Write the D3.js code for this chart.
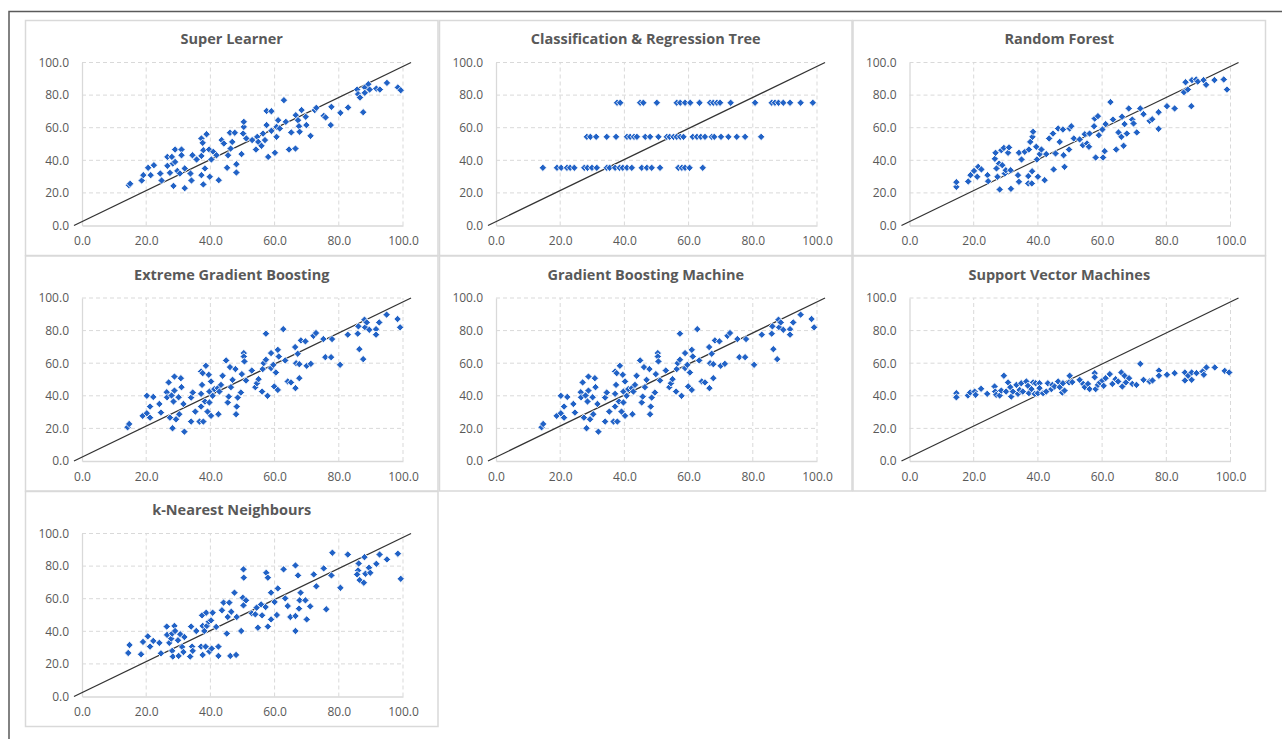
<!DOCTYPE html>
<html><head><meta charset="utf-8">
<script src="https://cdn.jsdelivr.net/npm/d3@7"></script>
<style>
html,body{margin:0;padding:0;background:#fff;}
svg{display:block;}
</style></head>
<body>
<svg id="chart" width="1282" height="739"></svg>
<script>
// ---------- DATA ----------
const titles = ["Super Learner","Classification & Regression Tree","Random Forest",
  "Extreme Gradient Boosting","Gradient Boosting Machine","Support Vector Machines","k-Nearest Neighbours"];
const xTicks = [0,20,40,60,80,100];
const yTicks = [0,20,40,60,80,100];
const diagX = [-2.5, 102.5];
const diagY = [0, 100];

const slX = [14.6,15,18.6,19.1,20.6,21.4,22.4,24.4,24.8,26.6,26.6,27.4,28,28.3,28.5,29,29,29.7,30.5,31,31,32,32,33.8,34.1,34.4,35.7,37.2,37.6,37.2,37.8,37.2,37.8,38.3,38.8,39.6,39.8,40.3,40.9,41.9,42.6,43.5,44.2,45.2,45.5,46.1,46.3,46.8,47.6,48.1,48.1,49.7,50.2,50.4,50.4,51.2,53,54.2,54.6,54.9,55.9,56.4,57,57.5,57.5,58,59,59,60.1,60.6,60.6,61.1,61.6,62.9,63.5,64.5,65.2,66.5,66.6,67.3,67.6,67.8,68.4,69.7,69.9,71.2,72.5,73,75.3,75.9,77.7,77.5,80.5,82.9,85.7,86,86.6,87.6,88.1,88.1,89.2,89.6,91.7,92.8,95,98.4,99.3];
const slY = [24.7,25.6,27.6,30.9,35.4,30.9,37,31.9,27.6,42.1,36.6,32.3,42.1,38,24.3,46.6,39,33.5,31.9,46.6,43.1,35,22.9,31.9,27.6,43.1,40.5,53.4,50.7,42.7,46.2,30.9,25.2,35,56,46.6,29.9,40.5,45.2,43.1,27.8,52.4,50.3,35.4,43.1,56.9,47.2,51.3,56.9,37.6,32.5,43.8,56.4,60.5,63.6,53.4,52.4,46.6,54.4,51.3,48.9,56.4,52.4,61.6,70.3,42.1,70.1,58.1,44.6,54.4,60.5,64.6,59.5,76.9,63.6,46.6,57.1,47.2,67.7,64.6,60.9,57.5,70.8,66.7,61.6,55,70.8,72.2,67.3,66.3,72.8,61.6,69.1,72.4,83.4,80.6,78.5,69.5,84.7,81.4,86.7,83.4,84,83.4,87.5,84.7,83];

const cartX = [37.7,38.7,44.9,45.9,50.1,56.3,57.4,58.9,60.5,63.4,66.7,67.7,68.8,69.8,73.1,80.7,85.9,86.9,88,89.5,91.6,94.9,98.7,
  28.3,29.4,31.2,34.5,37.4,40.8,41.8,43,43.9,46.5,48,50.6,53.2,54.1,55.3,56.3,57.4,58.4,61.3,62.6,63.8,65.1,67.2,68,70.1,72.4,75,77.6,82.6,
  14.6,19,20.3,22.1,23.1,24.4,27.5,28.5,29.9,31.4,34.5,35.4,37.1,38.5,39.5,40.8,42.3,45.4,47,48.5,51.1,56.8,57.9,58.9,60.3,64.4];
const cartY = [75.3,75.3,75.3,75.3,75.3,75.3,75.3,75.3,75.3,75.3,75.3,75.3,75.3,75.3,75.3,75.3,75.3,75.3,75.3,75.3,75.3,75.3,75.3,
  54.4,54.4,54.4,54.4,54.4,54.4,54.4,54.4,54.4,54.4,54.4,54.4,54.4,54.4,54.4,54.4,54.4,54.4,54.4,54.4,54.4,54.4,54.4,54.4,54.4,54.4,54.4,54.4,54.4,
  35.4,35.4,35.4,35.4,35.4,35.4,35.4,35.4,35.4,35.4,35.4,35.4,35.4,35.4,35.4,35.4,35.4,35.4,35.4,35.4,35.4,35.4,35.4,35.4,35.4,35.4];

const rfX = [14.6,14.6,18.3,19,20.1,21.1,21.4,22.4,24.3,24.5,26.6,26.8,27.1,27.4,27.9,28.1,28.6,28.9,29.4,29.7,30,30.7,31,31.5,31.6,33.8,34.1,34.1,34.9,35.9,37,37,37.2,37.6,38.1,38.2,38.3,38.5,39.5,39.7,40,40.6,41.1,42.1,42.6,43.5,44.7,44.9,45.5,46.3,46.8,47.8,48,48.3,49.7,49.9,50.4,51.2,53,54,54.6,55.3,55.9,56.1,57.5,57.7,58,58.7,59,60.1,60.3,60.8,61.1,62.6,63.4,64.4,65.1,66,66.2,66.7,67,67.7,68.3,69.4,69.8,70.8,71.9,72.9,74.8,75.6,77.6,77.6,80.2,82.6,85.5,86,86.7,87.8,88,89.3,89.8,91.6,92.4,95,97.9,98.9];
const rfY = [23.7,26.6,27,30.9,33.5,29.9,36,34.4,30.9,27.2,40.9,44.6,35,29.9,38,22.1,46.2,37,47.6,31.9,33.9,44.6,47.9,33.9,22.5,30.9,26.8,44.6,40.5,45.2,30.3,25.8,46.6,51.3,25.8,33.3,54.4,57.5,48.3,40.5,29.9,43.8,46.6,27.8,43.8,53.4,56.4,34.4,44.2,59.5,51.3,58.9,43.1,36,46.6,59.5,60.9,53.4,52.8,49.3,56,50.3,48.3,56.4,60.9,65.6,41.7,67.1,55.4,58.9,41.7,45.6,62.2,75.7,65,46.6,57.1,54.4,66.7,48.9,62.2,56.4,71.8,65,62.6,57.1,71.8,68.3,64.2,65.2,69.5,59.3,73.2,71.8,81.8,87.9,83.4,73.2,89.2,89.6,88.3,89.2,86.3,89.2,89.6,83.4];

const xgbX = [14.2,14.7,18.9,20.2,20.2,21.2,21.2,22.2,24.1,24.6,26.4,26.5,27,27.4,27.9,28.2,28.5,28.8,28.8,29.3,30.1,30.3,30.8,31,31.6,31.9,34,34,34.5,35.3,36.6,37.1,37.4,37.1,37.1,37.6,37.8,38.3,38.6,39.1,39.5,39.7,39.7,40.2,40.2,40.7,41.2,42.3,42.5,42.8,43.3,43.8,44.9,45.4,45.7,46.1,46.4,46.9,47.8,48,48.2,48.5,49.5,49.8,50.4,50.4,50.6,51.1,52.9,54,54.5,55,56.1,56.3,56.6,57.3,57.3,57.8,58.9,58.9,59.6,59.9,60.4,61,61,61.3,62.7,63.3,64.1,65.1,66.4,66.5,67.2,66.7,67.7,67.7,68.2,69.6,70,71.3,72.1,72.9,75.2,75.8,77.6,77.9,80.4,82.8,85.9,86.1,86.4,87.6,88,88.2,88.7,89.5,91.6,91.6,92.6,94.9,98.3,99.1];
const xgbY = [20.7,22.7,27.7,29.3,40,33.4,26.6,39.3,35,29.7,42.2,39.1,48.2,26.6,40.2,20.1,36.5,51.8,43.2,25.6,39.1,28.7,50.8,45.3,35,18,38.9,24.2,42,30.3,24.2,41.2,46.7,33.4,54.9,53.9,24.2,36.5,58.4,30.3,52.9,35.9,42.6,48.8,27.7,40,44.1,44.7,28.7,42.6,46.7,52.3,61.7,35.9,39.5,57.6,45.3,49.8,56.4,28.7,33.4,38.9,42,53.3,66.2,64.1,61.1,49.4,55.5,45.3,47.7,50.2,42.6,56.4,60,78.1,62.1,40,57,66.2,59,45.7,54.3,68.2,43.6,64.1,80.9,61.7,48.8,48.2,69.9,44.7,65.8,60,59.4,50.8,74,73.4,58.4,59.6,76.8,78.5,74.8,63.7,63.7,74.8,59,77.5,78.1,82.6,68.6,62.5,86.7,82,85,80.5,80.9,77.5,85,89.8,87.1,82];
const gbmX = xgbX.slice();
const gbmY = xgbY.slice();

const svmX = [14.6,14.6,18.2,18.9,20.3,20.6,22.3,24.2,26.5,26.7,27,28.1,28.6,29.4,30.1,30.7,31.4,31.7,32.2,33.3,33.8,34.3,34.8,35.3,36.4,36.9,37.2,38,38.5,39,39.3,40,40.5,40.5,41.6,42.6,43.1,44.2,44.5,45.2,46.3,46.8,47.6,47.8,48.3,49.7,49.9,50.7,53,54.1,54.6,55.6,56.1,57.7,57.7,58,58.7,59.3,60.1,60.5,61.1,62.4,63.2,64.2,65,66,66.3,67,67.4,68.4,69.4,70.7,71.9,72.9,74.8,75.7,77.7,77.7,80.2,82.6,85.8,85.8,86.8,87.9,87.9,89.4,91.3,91.7,92.5,95.1,98.2,99.6];
const svmY = [41.6,39.1,40.2,42,42.6,40.6,44.3,41.2,45.7,42.6,40.6,40.2,43.2,52.3,42.6,48.2,45.3,39.5,42.6,46.7,41.2,43.6,47.7,42.6,48.8,46.1,41.6,44.1,48.2,41.2,47.7,41.6,47.7,44.7,41.6,42.6,47.7,44.1,46.7,45.7,48.8,45.3,42,47.7,43.2,48.2,52.3,48.4,49.8,47.3,45.3,47.3,44.1,53.9,51.4,44.1,46.7,48.2,49.4,46.1,50.8,53.3,47.3,50.2,48.8,54.3,45.7,52.3,48.2,50.8,47.3,46.7,59.6,49.8,48.8,49.4,55.5,52.3,52.9,53.9,54.3,49.4,52.3,54.3,49.8,53.9,54.9,52.9,57.4,57.4,55.3,54.3];

const knnX = [14.4,14.8,18.4,19,20.5,21.2,22.2,24.1,24.6,26.4,26.5,27.2,27.8,28.1,28.1,28.3,28.8,29,29.9,30.1,30.6,31.2,31.6,31.9,33.7,34,34.3,34.5,35.6,37.1,37.4,37.6,37.6,38.1,38.7,38.5,38.9,39.5,39.7,40.2,40.4,40.7,41.8,42.5,42.5,43.6,44.1,45.1,45.4,45.9,46.2,46.5,47.5,48,48.2,49.6,50.1,50.3,50.3,50.4,51.1,52.9,54,54.4,54.8,55.8,56.1,57.2,57.4,57.9,57.9,58.9,58.9,60,60.7,61,62.8,63.3,64.1,64.9,66.5,66.5,66.5,67.3,67.6,67.8,68.1,69.6,70,71.1,72.2,73,75.3,76.1,77.7,78,80.5,82.8,86,86.2,85.7,86.5,87.8,88,88.3,89.4,89.8,91.7,92.7,95,98.4,99.3];
const knnY = [26.7,31.6,25.9,33.5,36.9,30.6,34.1,32.9,26.5,42.9,37.8,32.9,35.5,38.6,28,24.5,43.3,40.2,34.5,24.9,38.2,30.4,27.3,36.5,24.5,42.9,30.6,28,40.2,30.6,49.8,25.5,43.3,40.2,51.4,30.6,43.3,45.9,27.6,46.7,29.4,51.4,42.7,30.6,24.9,52.9,57.6,38.6,48.8,57.6,24.9,52,63.7,25.5,48.8,40.2,60.6,55.9,78,72.9,59,51,50.4,54.5,42.2,56.5,49.8,54.9,75.9,72.9,42.9,47.3,63.7,58,50,66.3,78,60.2,55.5,48.8,80.4,49.4,40.2,74.3,53.9,59,63.7,59,47.3,55.3,74.9,67.6,78.6,53.5,74.3,88.2,66.7,87.1,77.3,81.6,74.9,71.4,69.8,85.5,75.3,79,75.9,81.4,87.1,84.1,87.6,72.2];

const seriesX = [slX, cartX, rfX, xgbX, gbmX, svmX, knnX];
const seriesY = [slY, cartY, rfY, xgbY, gbmY, svmY, knnY];

// ---------- LAYOUT ----------
const svg = d3.select("#chart");
const colX = [25, 439, 852.5], colW = 413.5;
const rowY = [20, 255.5, 491], rowH = 236;
const plot = {left: 57, right: 378, top: 42.5, bottom: 205.5};
const font = "'Open Sans', 'Liberation Sans', sans-serif";
const txt = "#595959", grid = "#d9d9d9", marker = "#2162c6";

// page border (top + left)
svg.append("path").attr("d", "M9,739 L9,11.5 L1282,11.5")
  .attr("fill","none").attr("stroke","#5a5a5a").attr("stroke-width",1.5);

titles.forEach((t, i) => {
  const c = i % 3, r = Math.floor(i / 3);
  const g = svg.append("g").attr("transform", `translate(${colX[c]},${rowY[r]})`);
  g.append("rect").attr("x",0.5).attr("y",0.5).attr("width",colW-1).attr("height",rowH-1)
    .attr("fill","#fff").attr("stroke",grid).attr("stroke-width",1.5);

  const x = d3.scaleLinear().domain([0,100]).range([plot.left, plot.right]);
  const y = d3.scaleLinear().domain([0,100]).range([plot.bottom, plot.top]);

  // gridlines
  g.append("g").selectAll("line").data(xTicks.filter(v=>v>0)).join("line")
    .attr("x1",d=>x(d)).attr("x2",d=>x(d)).attr("y1",y(0)).attr("y2",y(100))
    .attr("stroke",grid).attr("stroke-width",1).attr("stroke-dasharray","4,3");
  g.append("g").selectAll("line").data(yTicks.filter(v=>v>0)).join("line")
    .attr("x1",x(0)).attr("x2",x(100)).attr("y1",d=>y(d)).attr("y2",d=>y(d))
    .attr("stroke",grid).attr("stroke-width",1).attr("stroke-dasharray","4,3");

  // axes
  const xa = g.append("g").attr("transform",`translate(0,${y(0)})`)
    .call(d3.axisBottom(x).tickValues(xTicks).tickFormat(d3.format(".1f")).tickSize(0).tickPadding(11));
  const ya = g.append("g").attr("transform",`translate(${x(0)},0)`)
    .call(d3.axisLeft(y).tickValues(yTicks).tickFormat(d3.format(".1f")).tickSize(0).tickPadding(13));
  [xa, ya].forEach(a => {
    a.select(".domain").attr("stroke",grid).attr("stroke-width",1.3);
    a.selectAll("text").attr("fill",txt).style("font-family",font).style("font-size","12px");
  });

  // diagonal reference line
  const line = d3.line().x(d=>x(d[0])).y(d=>y(d[1]));
  g.append("path").datum(d3.zip(diagX, diagY)).attr("d", line)
    .attr("fill","none").attr("stroke","#333").attr("stroke-width",1.3);

  // points
  const pts = d3.zip(seriesX[i], seriesY[i]);
  g.append("g").selectAll("path").data(pts).join("path")
    .attr("d", d3.symbol().type(d3.symbolSquare).size(27))
    .attr("transform", d => `translate(${x(d[0])},${y(d[1])}) rotate(45)`)
    .attr("fill", marker).attr("stroke","#fff").attr("stroke-width",0.8);

  // title
  g.append("text").attr("x", colW/2).attr("y", 24).attr("text-anchor","middle")
    .attr("fill", txt).style("font-family",font).style("font-weight","bold").style("font-size","14.5px")
    .text(t);
});
</script>
</body></html>
